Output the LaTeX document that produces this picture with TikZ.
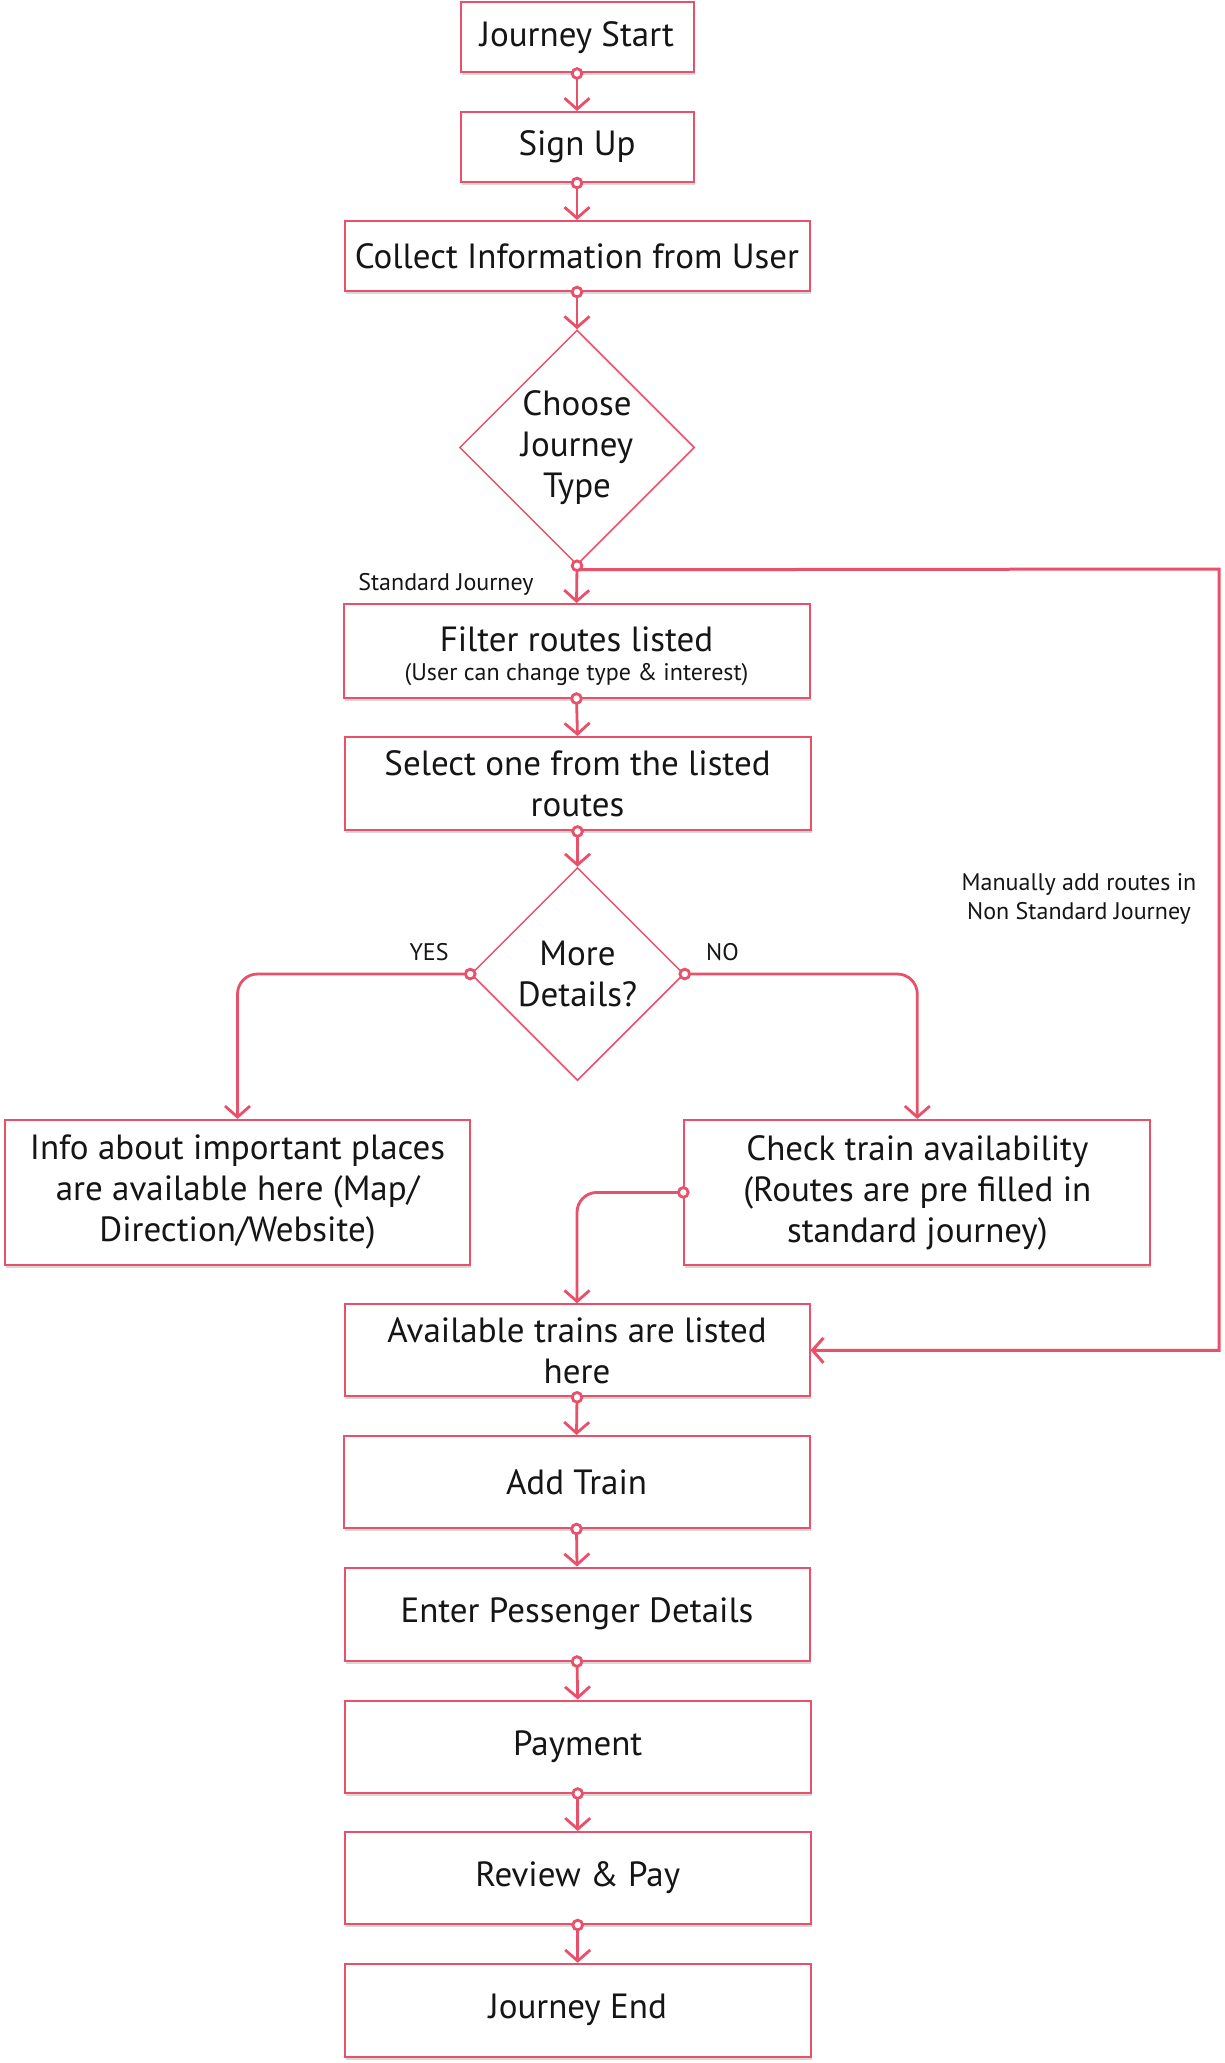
\documentclass[tikz,border=0pt]{standalone}
\usepackage{fontspec}
\setmainfont{PT Sans}
\usetikzlibrary{shapes.geometric,arrows.meta,shadows}
\definecolor{pinkc}{HTML}{E9506A}
\definecolor{inkc}{HTML}{151515}
\begin{document}
\begin{tikzpicture}[x=1pt,y=-1pt,
  box/.style={draw=pinkc, line width=2pt, fill=white, rectangle, inner sep=4pt, align=center, text=inkc,
    font=\fontsize{35}{41}\selectfont,
    drop shadow={shadow xshift=1pt,shadow yshift=-3pt,opacity=0.25,fill=black!60}},
  decision/.style={draw=pinkc, line width=1.5pt, fill=white, diamond, aspect=1, inner sep=0pt},
  dtext/.style={align=center, text=inkc, font=\fontsize{35}{41}\selectfont},
  lbl/.style={align=center, text=inkc, font=\fontsize{24}{29}\selectfont},
  conn/.style={draw=pinkc, line width=2.8pt, rounded corners=20pt,
    {Circle[open,fill=white,length=12.5pt,width=12.5pt]}-{Straight Barb[length=11pt,width=25pt]},
    shorten <=-6.25pt},
  loopline/.style={draw=pinkc, line width=3pt, -{Straight Barb[length=11pt,width=25pt]}}
]
\useasboundingbox[fill=white] (0,0) rectangle (1224,2063);

% nodes
\node[box, minimum width=233pt, minimum height=70pt] (start) at (577,37.5) {Journey Start};
\node[box, minimum width=233pt, minimum height=70pt] (signup) at (577,147) {Sign Up};
\node[box, minimum width=465pt, minimum height=70pt] (collect) at (577,256) {Collect Information from User};
\node[decision, minimum width=235pt, minimum height=235pt] (choose) at (577,447.5) {};
\node[dtext] (chooseT) at (choose) {Choose\\Journey\\Type};
\node[lbl, anchor=base east] (stdl) at (537,590) {Standard Journey};
\node[box, minimum width=466pt, minimum height=93.5pt] (filter) at (576.5,650.8)
  {\rule{0pt}{36pt}Filter routes listed\\[-12pt]{\fontsize{24}{29}\selectfont (User can change type \& interest)}};
\node[box, minimum width=466pt, minimum height=93.5pt] (select) at (577.5,783.7) {Select one from the listed\\routes};
\node[decision, minimum width=213pt, minimum height=213pt] (details) at (577.5,974) {};
\node[dtext] (detailsT) at (details) {More\\Details?};
\node[lbl] (yes) at (429,952) {YES};
\node[lbl] (no) at (722.5,952) {NO};
\node[box, minimum width=464.5pt, minimum height=145pt] (info) at (237.5,1192.4)
  {Info about important places\\are available here (Map/\\Direction/Website)};
\node[box, minimum width=466pt, minimum height=145pt] (check) at (917.3,1192.4)
  {Check train availability\\(Routes are pre filled in\\standard journey)};
\node[box, minimum width=465pt, minimum height=92pt] (avail) at (577,1350.3) {Available trains are listed\\here};
\node[box, minimum width=466pt, minimum height=92pt] (add) at (576.5,1482) {Add Train};
\node[box, minimum width=465pt, minimum height=93pt] (enter) at (577,1614) {Enter Pessenger Details};
\node[box, minimum width=466pt, minimum height=92pt] (pay) at (577.7,1746.5) {Payment};
\node[box, minimum width=466pt, minimum height=92pt] (review) at (577.7,1878) {Review \& Pay};
\node[box, minimum width=466pt, minimum height=93pt] (end) at (577.7,2010.3) {Journey End};
\node[lbl] (manual) at (1079,898.5) {Manually add routes in\\Non Standard Journey};

% connectors
\coordinate (rc) at (1219,569);
\draw[loopline] ([yshift=-4pt]choose.south) -- (rc) |- (avail.east);
\draw[conn] (start.south) -- (signup.north);
\draw[conn] (signup.south) -- (collect.north);
\draw[conn] (collect.south) -- (choose.north);
\draw[conn] (choose.south) -- (filter.north);
\draw[conn] (filter.south) -- (select.north);
\draw[conn] (select.south) -- (details.north);
\draw[conn] (details.west) -| (info.north);
\draw[conn] (details.east) -| (check.north);
\draw[conn] (check.west) -| (avail.north);
\draw[conn] (avail.south) -- (add.north);
\draw[conn] (add.south) -- (enter.north);
\draw[conn] (enter.south) -- (pay.north);
\draw[conn] (pay.south) -- (review.north);
\draw[conn] (review.south) -- (end.north);
\end{tikzpicture}
\end{document}
